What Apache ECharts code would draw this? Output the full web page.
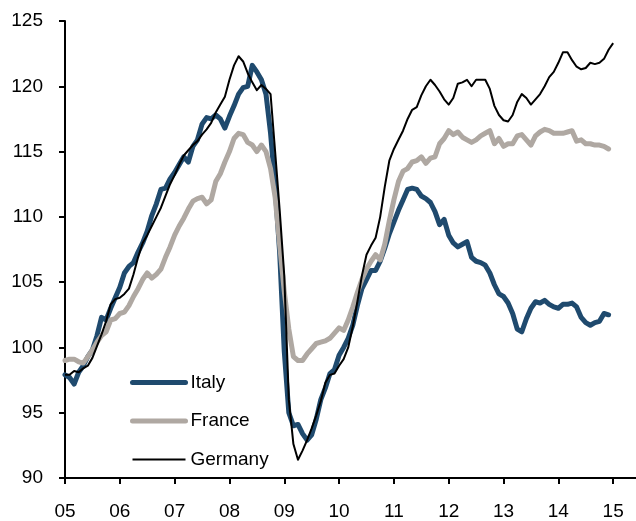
<!DOCTYPE html>
<html><head><meta charset="utf-8">
<script src="https://cdn.jsdelivr.net/npm/echarts@6/dist/echarts.min.js"></script>
<style>html,body{margin:0;padding:0;background:#fff}#c{width:636px;height:521px}</style>
</head><body><div id="c"></div>
<script>
// Tick labels (years) on the x axis
const yearLabels = ['05','06','07','08','09','10','11','12','13','14','15'];
// Months shown on the axis (Jan 2005 .. Jun 2015)
const monthCount = 126;

// Monthly index values, Jan 2005 onwards
const italy = [
  97.9, 97.7, 97.2, 98.1, 98.6, 99.3, 99.8,100.9,102.3,102.1,103.0,103.8,
 104.6,105.7,106.2,106.5,107.3,108.0,108.9,110.1,111.0,112.1,112.2,112.9,
 113.4,114.0,114.6,114.2,115.4,115.9,117.1,117.6,117.5,117.8,117.5,116.8,
 117.7,118.5,119.4,119.9,120.0,121.6,121.1,120.5,119.4,116.4,112.3,107.2,
  99.7, 95.0, 94.0, 94.1, 93.4, 92.9, 93.3, 94.5, 96.0, 96.9, 98.0, 98.3,
  99.4,100.0,100.7,101.7,103.2,104.5,105.2,105.9,105.9,106.6,107.6,108.7,
 109.6,110.5,111.3,112.1,112.2,112.1,111.6,111.4,111.1,110.4,109.4,109.8,
 108.6,108.0,107.7,107.9,108.1,106.9,106.6,106.5,106.3,105.7,104.8,104.1,
 103.9,103.4,102.6,101.4,101.2,102.2,103.0,103.5,103.4,103.6,103.3,103.1,
 103.0,103.3,103.3,103.4,103.1,102.3,101.9,101.7,101.9,102.0,102.6,102.5
];
const france = [
  99.0, 99.1, 99.1, 98.9, 98.8, 99.3, 99.8,100.4,100.9,101.2,102.1,102.2,
 102.6,102.7,103.2,103.9,104.5,105.2,105.7,105.3,105.6,106.0,106.9,107.7,
 108.6,109.3,109.9,110.6,111.2,111.4,111.5,111.0,111.3,112.7,113.3,114.2,
 115.0,116.0,116.4,116.3,115.7,115.5,115.0,115.5,115.0,113.7,111.5,107.8,
 104.3,101.4, 99.3, 99.0, 99.0, 99.5, 99.9,100.3,100.4,100.5,100.7,101.1,
 101.5,101.3,102.1,103.1,104.2,105.2,106.0,106.6,107.1,106.7,107.9,109.7,
 111.3,112.7,113.5,113.7,114.2,114.3,114.6,114.1,114.5,114.6,115.6,116.0,
 116.6,116.3,116.5,116.1,115.9,115.7,115.9,116.2,116.4,116.6,115.6,116.0,
 115.4,115.6,115.6,116.2,116.3,115.9,115.5,116.2,116.5,116.7,116.6,116.4,
 116.4,116.4,116.5,116.6,115.8,115.9,115.6,115.6,115.5,115.5,115.4,115.2
];
const germany = [
  97.9, 97.9, 98.2, 98.1, 98.4, 98.6, 99.2,100.1,101.0,102.0,103.3,103.7,
 103.8,104.1,104.5,105.6,106.9,108.0,108.6,109.3,110.0,110.7,111.6,112.5,
 113.2,114.0,114.7,115.1,115.5,115.8,116.3,116.7,117.2,118.0,118.6,119.2,
 120.5,121.6,122.3,121.9,121.0,120.3,119.7,120.1,119.8,119.4,115.0,110.5,
 105.5, 96.0, 92.6, 91.4, 92.1, 92.9, 93.8, 94.8, 95.9, 97.3, 97.9, 98.0,
  98.6, 99.1,100.0,101.6,103.5,105.5,107.1,107.8,108.4,110.0,112.3,114.3,
 115.2,115.9,116.6,117.5,118.2,118.4,119.3,120.0,120.5,120.1,119.6,119.0,
 118.6,119.1,120.2,120.3,120.5,120.0,120.5,120.5,120.5,119.8,118.5,117.8,
 117.4,117.3,117.8,118.8,119.4,119.1,118.6,119.0,119.4,120.0,120.7,121.1,
 121.8,122.6,122.6,122.0,121.5,121.3,121.4,121.8,121.7,121.8,122.1,122.8,
 123.3
];

const months = [];
for (let y = 0; y < yearLabels.length; y++) {
  for (let m = 1; m <= 12; m++) months.push(yearLabels[y] + '-' + m);
}
const categories = months.slice(0, monthCount);

const FONT = '"Liberation Sans", Arial, sans-serif';
const cItaly = '#1F4A6E', cFrance = '#AFA8A2', cGermany = '#000000';

const chart = echarts.init(document.getElementById('c'), null, {renderer: 'canvas'});
chart.setOption({
  animation: false,
  backgroundColor: '#ffffff',
  grid: {left: 65, right: 0, top: 21, bottom: 43, containLabel: false},
  legend: {
    orient: 'vertical', left: 130, top: 373, padding: 0,
    itemWidth: 53, itemHeight: 19, itemGap: 19.5,
    itemStyle: {opacity: 0, borderWidth: 0},
    textStyle: {fontFamily: FONT, fontSize: 19, color: '#000', lineHeight: 19, padding: [0, 0, 0, 0]},
    data: [
      {name: 'Italy', lineStyle: {width: 5, color: cItaly}},
      {name: 'France', lineStyle: {width: 5, color: cFrance}},
      {name: 'Germany', lineStyle: {width: 2, color: cGermany}}
    ]
  },
  xAxis: {
    type: 'category', data: categories, boundaryGap: false,
    axisLine: {lineStyle: {color: '#000', width: 2}},
    axisTick: {show: true, length: 6, lineStyle: {color: '#000', width: 2},
      interval: (i) => i % 12 === 0},
    axisLabel: {interval: (i) => i % 12 === 0, margin: 24,
      formatter: (v) => v.split('-')[0],
      fontFamily: FONT, fontSize: 19, color: '#000'},
    splitLine: {show: false}
  },
  yAxis: {
    type: 'value', min: 90, max: 125, interval: 5,
    axisLine: {show: true, lineStyle: {color: '#000', width: 2}},
    axisTick: {show: true, length: 6, lineStyle: {color: '#000', width: 2}},
    axisLabel: {margin: 22, fontFamily: FONT, fontSize: 19, color: '#000'},
    splitLine: {show: false}
  },
  series: [
    {name: 'Italy', type: 'line', data: italy, symbol: 'none', color: cItaly,
     lineStyle: {width: 5, color: cItaly, join: 'round', cap: 'round'}, z: 2},
    {name: 'France', type: 'line', data: france, symbol: 'none', color: cFrance,
     lineStyle: {width: 5, color: cFrance, join: 'round', cap: 'round'}, z: 2},
    {name: 'Germany', type: 'line', data: germany, symbol: 'none', color: cGermany,
     lineStyle: {width: 2, color: cGermany, join: 'round'}, z: 3}
  ]
});
</script></body></html>
